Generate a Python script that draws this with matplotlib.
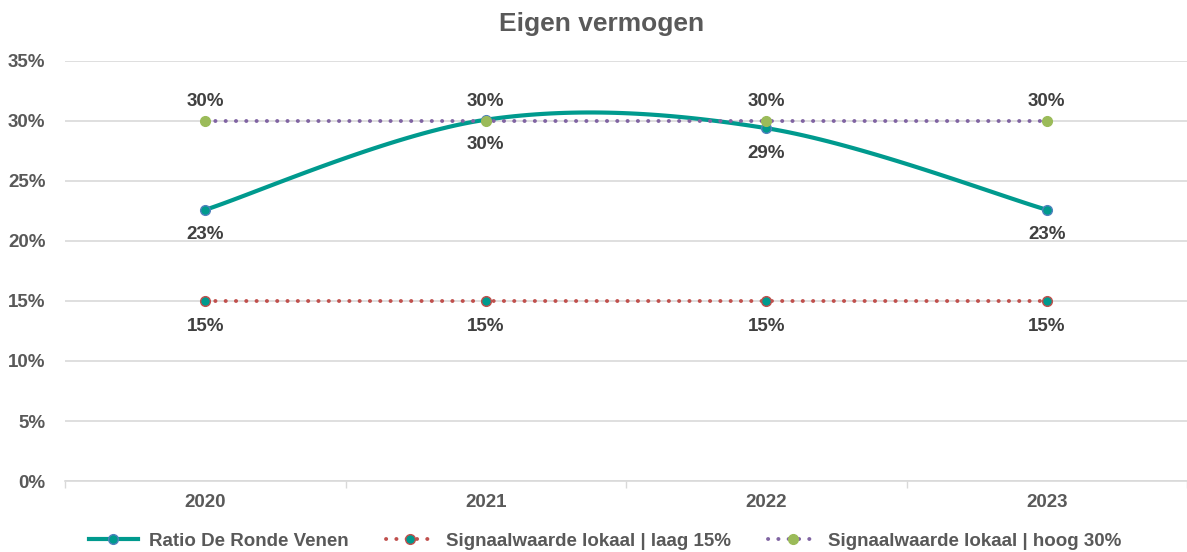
import matplotlib.pyplot as plt
import numpy as np

plt.rcParams['font.family'] = ['Liberation Sans', 'DejaVu Sans']

years = ['2020', '2021', '2022', '2023']
ratio = [22.6, 30.1, 29.4, 22.6]
laag = [15, 15, 15, 15]
hoog = [30, 30, 30, 30]

ratio_labels = ['23%', '30%', '29%', '23%']
laag_labels = ['15%', '15%', '15%', '15%']
hoog_labels = ['30%', '30%', '30%', '30%']

TEAL = '#009A8E'
RED = '#C0504D'
PURPLE = '#8064A2'
GREEN = '#9BBB59'
BLUE = '#4F81BD'
GRAY = '#595959'
LABEL = '#404040'
DOTS = (0, (0.05, 2.6))


def smooth(x, y, n=40):
    # catmull-rom curve like excel's smoothed line
    x = np.asarray(x, float)
    y = np.asarray(y, float)
    px = np.concatenate([[x[0]], x, [x[-1]]])
    py = np.concatenate([[y[0]], y, [y[-1]]])
    xs, ys = [], []
    for i in range(1, len(px) - 2):
        t = np.linspace(0, 1, n)
        p0, p1, p2, p3 = [np.array([px[j], py[j]]) for j in (i - 1, i, i + 1, i + 2)]
        c1 = p1 + (p2 - p0) / 6
        c2 = p2 - (p3 - p1) / 6
        pts = ((1 - t) ** 3)[:, None] * p1 + (3 * (1 - t) ** 2 * t)[:, None] * c1 \
            + (3 * (1 - t) * t ** 2)[:, None] * c2 + (t ** 3)[:, None] * p2
        xs.extend(pts[:, 0])
        ys.extend(pts[:, 1])
    return xs, ys


fig = plt.figure(figsize=(11.87, 5.52), dpi=100)
ax = fig.add_axes([0.0548, 0.1286, 0.9452, 0.761])

ind = np.arange(len(years))

sx, sy = smooth(ind, ratio)
ax.plot(sx, sy, color=TEAL, lw=3, zorder=3)
ax.plot(ind, ratio, ls='none', marker='o', ms=7, mfc=TEAL, mec=BLUE, mew=1, zorder=4)
ax.plot(ind, laag, ls=DOTS, color=RED, lw=2.8, dash_capstyle='round',
        marker='o', ms=7, mfc=TEAL, mec=RED, mew=1, zorder=3)
ax.plot(ind, hoog, ls=DOTS, color=PURPLE, lw=2.8, dash_capstyle='round',
        marker='o', ms=7, mfc=GREEN, mec=GREEN, zorder=5)

# legend handles
h1, = ax.plot([], [], color=TEAL, lw=3, marker='o', ms=7, mfc=TEAL, mec=BLUE)
h2, = ax.plot([], [], ls=DOTS, color=RED, lw=2.8, dash_capstyle='round',
              marker='o', ms=7, mfc=TEAL, mec=RED)
h3, = ax.plot([], [], ls=DOTS, color=PURPLE, lw=2.8, dash_capstyle='round',
              marker='o', ms=7, mfc=GREEN, mec=GREEN)

lab_kw = dict(ha='center', fontsize=13.5, fontweight='bold', color=LABEL, textcoords='offset points')
for i in ind:
    ax.annotate(ratio_labels[i], (i, ratio[i]), xytext=(0, -12), va='top', **lab_kw)
    ax.annotate(laag_labels[i], (i, laag[i]), xytext=(0, -12), va='top', **lab_kw)
    ax.annotate(hoog_labels[i], (i, hoog[i]), xytext=(0, 8), va='bottom', **lab_kw)

ax.set_xlim(-0.5, len(years) - 0.5)
ax.set_ylim(0, 35)
ax.set_yticks(range(0, 36, 5))
ax.set_yticklabels([f'{v}%' for v in range(0, 36, 5)])
ax.set_xticks(ind)
ax.set_xticklabels(years)
ax.set_xticks(np.arange(-0.5, len(years), 1), minor=True)
ax.tick_params(axis='x', which='major', length=0, pad=9)
ax.tick_params(axis='x', which='minor', length=5, color='#D9D9D9', width=1)
ax.tick_params(axis='y', length=0, pad=14)
for lbl in ax.get_xticklabels() + ax.get_yticklabels():
    lbl.set_fontsize(13.5)
    lbl.set_fontweight('bold')
    lbl.set_color(GRAY)

ax.grid(axis='y', color='#D9D9D9', lw=1.2)
ax.set_axisbelow(True)
for s in ['top', 'right', 'left']:
    ax.spines[s].set_visible(False)
ax.spines['bottom'].set_color('#D9D9D9')
ax.spines['bottom'].set_linewidth(1.2)

fig.suptitle('Eigen vermogen', x=0.507, y=0.978, fontsize=19, fontweight='bold', color=GRAY)

leg = fig.legend([h1, h2, h3],
                 ['Ratio De Ronde Venen', 'Signaalwaarde lokaal | laag 15%',
                  'Signaalwaarde lokaal | hoog 30%'],
                 loc='center', bbox_to_anchor=(0.51, 0.02), ncol=3, frameon=False,
                 handlelength=2.6, columnspacing=2.0, handletextpad=0.6,
                 prop={'size': 13.5, 'weight': 'bold'})
for t in leg.get_texts():
    t.set_color(GRAY)

plt.savefig('out.png')
